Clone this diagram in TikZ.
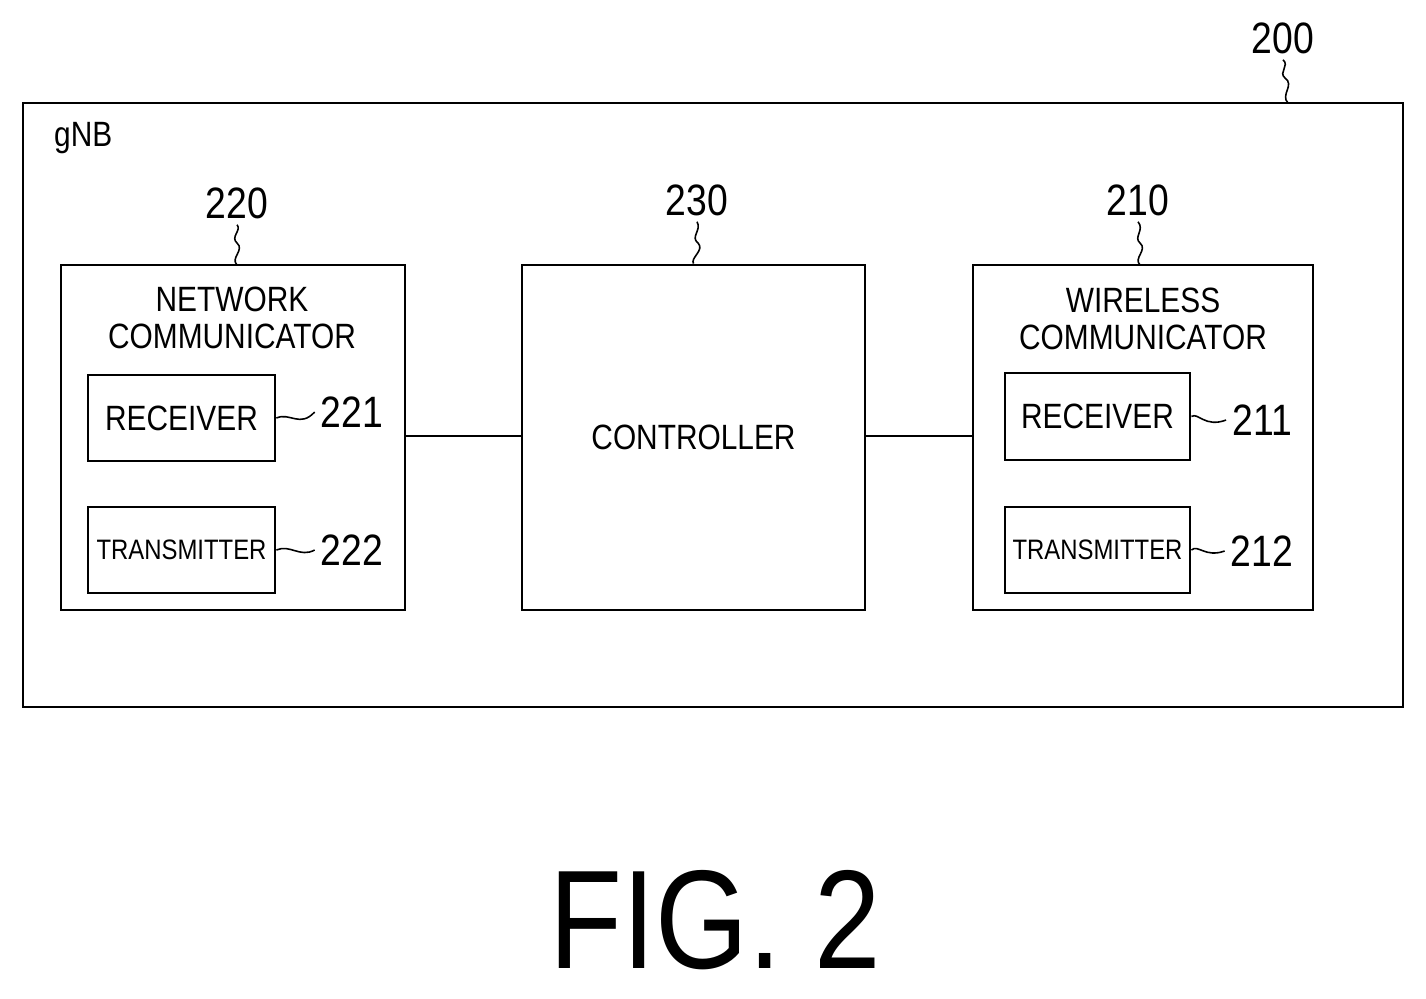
\documentclass[tikz,border=0pt]{standalone}
\usepackage{fontspec}
\setmainfont{Liberation Sans}[FakeStretch=0.85]
\begin{document}
\begin{tikzpicture}[x=0.02cm,y=-0.02cm,
 box/.style={draw,line width=1.6pt},
 lbl/.style={font=\fontsize{20}{22}\selectfont},
 tx/.style={font=\fontsize{16}{18}\selectfont,inner xsep=1pt},
 num/.style={font=\fontsize{25}{27}\selectfont},
 sq/.style={line width=0.9pt}]
\useasboundingbox (0,0) rectangle (1426,998);
\draw[box] (23,103) rectangle (1403,707);
\coordinate (otop) at (1288,103);
\node[num] (n200) at (1283,38) {200};
\draw[sq] (otop) .. controls (1280,95) and (1295,85) .. (1285,78) .. controls (1278,72) and (1290,66) .. (n200.south);
\node[lbl,anchor=west] (gnb) at (48,138) {gNB};

% 220
\draw[box] (61,265) rectangle (405,610);
\coordinate (b220) at (237,265);
\node[num] (n220) at (237,203) {220};
\draw[sq] (b220) .. controls (230,258) and (245,250) .. (237,243) .. controls (230,237) and (242,230) .. (n220.south);
\node[lbl,align=center] (nc) at (232,318) {NETWORK\\[-1pt]COMMUNICATOR};
\node[box,minimum width=187*0.02cm,minimum height=86*0.02cm,lbl] (r1) at (181.5,418) {RECEIVER};
\node[box,minimum width=187*0.02cm,minimum height=86*0.02cm,tx] (t1) at (181.5,550) {TRANSMITTER};
\node[num] (n221) at (352,412) {221};
\node[num] (n222) at (352,550) {222};
\draw[sq] (r1.east) .. controls (290,412) and (300,428) .. (n221.west);
\draw[sq] (t1.east) .. controls (290,544) and (300,558) .. (n222.west);

% 230
\node[box,minimum width=343*0.02cm,minimum height=345*0.02cm,lbl] (ctl) at (693.5,437.5) {CONTROLLER};
\node[num] (n230) at (697,200) {230};
\draw[sq] (ctl.north) .. controls (690,258) and (705,250) .. (698,243) .. controls (690,237) and (702,230) .. (n230.south);

% 210
\draw[box] (973,265) rectangle (1313,610);
\coordinate (b210) at (1140,265);
\node[num] (n210) at (1138,200) {210};
\draw[sq] (b210) .. controls (1133,258) and (1148,250) .. (1140,243) .. controls (1133,237) and (1145,230) .. (n210.south);
\node[lbl,align=center] (wc) at (1143,319) {WIRELESS\\[-1pt]COMMUNICATOR};
\node[box,minimum width=185*0.02cm,minimum height=87*0.02cm,lbl] (r2) at (1097.5,416.5) {RECEIVER};
\node[box,minimum width=185*0.02cm,minimum height=86*0.02cm,tx] (t2) at (1097.5,550) {TRANSMITTER};
\node[num] (n211) at (1262,420) {211};
\node[num] (n212) at (1262,551) {212};
\draw[sq] (r2.east) .. controls (1198,412) and (1205,428) .. (n211.west);
\draw[sq] (t2.east) .. controls (1198,544) and (1205,558) .. (n212.west);

\coordinate (l1a) at (405,436);
\coordinate (l2b) at (973,436);
\draw[line width=1.3pt] (l1a) -- (ctl.west |- l1a);
\draw[line width=1.3pt] (ctl.east |- l2b) -- (l2b);

\node[font=\fontsize{80}{82}\selectfont] (fig) at (715,920) {FIG. 2};
\end{tikzpicture}
\end{document}
